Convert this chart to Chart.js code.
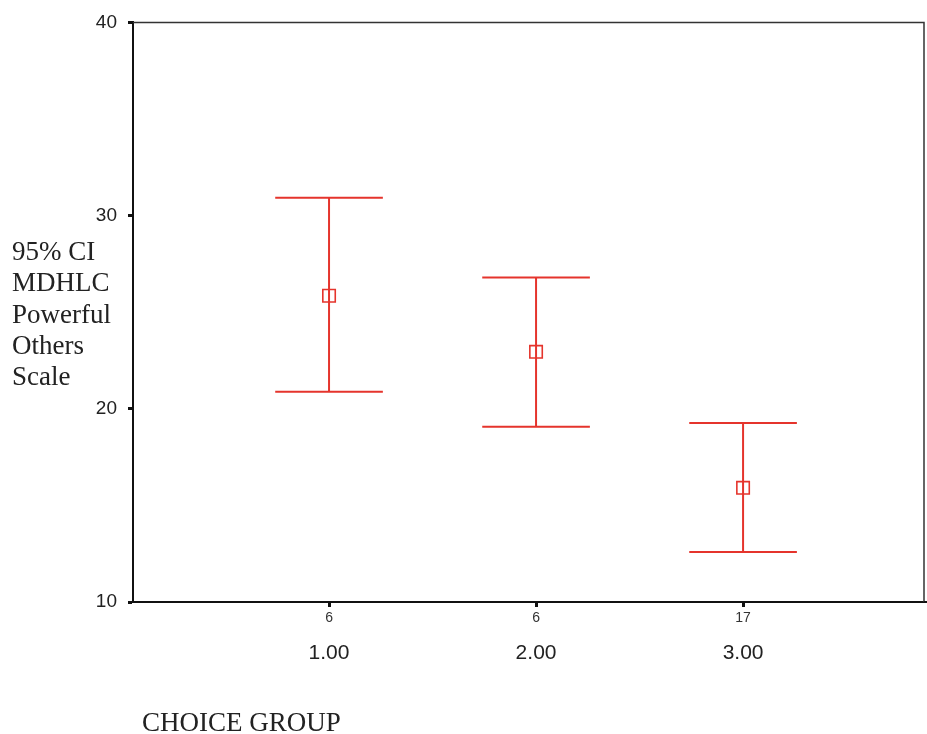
<!DOCTYPE html>
<html><head><meta charset="utf-8">
<script src="https://cdn.jsdelivr.net/npm/chart.js@4/dist/chart.umd.min.js"></script>
<style>html,body{margin:0;padding:0;background:#fff}#wrap{width:927px;height:734px;position:relative}</style>
</head><body><div id="wrap"><canvas id="c" width="927" height="734"></canvas></div>
<script>
// ---- data ----
const groups = [1, 2, 3];
const groupLabels = ['1.00', '2.00', '3.00'];
const counts = ['6', '6', '17'];
const means = [25.85, 22.95, 15.91];
const lower = [20.88, 19.07, 12.59];
const upper = [30.93, 26.79, 19.27];
const yTicks = [10, 20, 30, 40];
const yTitle = ['95% CI', 'MDHLC', 'Powerful', 'Others', 'Scale'];
const xTitle = 'CHOICE GROUP';

// ---- styles ----
const RED = '#e5342c';
const CAP = 0.26;

const whiskers = [];
groups.forEach((g, i) => {
  whiskers.push({x: g, y: upper[i]}, {x: g, y: lower[i]}, {x: g, y: null});
  whiskers.push({x: g - CAP, y: upper[i]}, {x: g + CAP, y: upper[i]}, {x: g, y: null});
  whiskers.push({x: g - CAP, y: lower[i]}, {x: g + CAP, y: lower[i]}, {x: g, y: null});
});
const meanPts = groups.map((g, i) => ({x: g, y: means[i]}));

const decor = {
  id: 'decor',
  beforeDraw(chart) {
    const c = chart.ctx;
    c.save(); c.fillStyle = '#ffffff'; c.fillRect(0, 0, chart.width, chart.height); c.restore();
  },
  afterDraw(chart) {
    const c = chart.ctx, a = chart.chartArea;
    c.save();
    c.strokeStyle = '#333'; c.lineWidth = 1.5;
    c.beginPath();
    c.moveTo(a.left, a.top); c.lineTo(a.right, a.top); c.lineTo(a.right, a.bottom);
    c.stroke();
    c.beginPath(); c.strokeStyle = '#111'; c.lineWidth = 2;
    c.moveTo(a.right, a.bottom); c.lineTo(chart.width, a.bottom); c.stroke();
    c.fillStyle = '#222';
    c.font = '27px "Liberation Serif", "Times New Roman", serif';
    c.textAlign = 'left'; c.textBaseline = 'alphabetic';
    yTitle.forEach((t, i) => c.fillText(t, 12, 260 + i * 31.25));
    c.font = '27px "Liberation Serif", "Times New Roman", serif';
    c.fillText(xTitle, 142, 731);
    c.restore();
  }
};

new Chart(document.getElementById('c'), {
  type: 'scatter',
  data: {
    datasets: [
      {data: whiskers, showLine: true, spanGaps: false, borderColor: RED, borderWidth: 2, pointRadius: 0, pointHoverRadius: 0, xAxisID: 'x', yAxisID: 'y'},
      {data: meanPts, showLine: false, pointStyle: 'rect', pointRadius: 8.8, pointBorderWidth: 1.6, pointBorderColor: RED, pointBackgroundColor: 'rgba(0,0,0,0)', xAxisID: 'x', yAxisID: 'y'}
    ]
  },
  options: {
    responsive: false, animation: false, devicePixelRatio: 1,
    layout: {autoPadding: false, padding: {left: 0, top: 22, right: 3, bottom: 0}},
    plugins: {legend: {display: false}, tooltip: {enabled: false}},
    scales: {
      x: {
        type: 'linear', position: 'bottom', weight: 0, min: 0.053, max: 3.874,
        afterBuildTicks: s => { s.ticks = groups.map(v => ({value: v})); },
        ticks: {callback: (v, i) => counts[i], font: {family: '"Liberation Sans", Arial, sans-serif', size: 14}, color: '#333', padding: 3, maxRotation: 0, autoSkip: false},
        grid: {drawOnChartArea: false, drawTicks: true, tickLength: 5, tickWidth: 3, tickColor: '#111'},
        border: {display: true, color: '#111', width: 2},
        afterFit: s => { s.height = 30; }
      },
      x2: {
        type: 'linear', position: 'bottom', weight: 1, min: 0.053, max: 3.874,
        afterBuildTicks: s => { s.ticks = groups.map(v => ({value: v})); },
        ticks: {callback: (v, i) => groupLabels[i], font: {family: '"Liberation Sans", Arial, sans-serif', size: 21}, color: '#222', padding: 1, maxRotation: 0, autoSkip: false},
        grid: {display: false},
        border: {display: false},
        afterFit: s => { s.height = 102; }
      },
      y: {
        type: 'linear', position: 'left', min: 10, max: 40,
        afterBuildTicks: s => { s.ticks = yTicks.map(v => ({value: v})); },
        ticks: {font: {family: '"Liberation Sans", Arial, sans-serif', size: 19}, color: '#222', padding: 11},
        grid: {drawOnChartArea: false, drawTicks: true, tickLength: 5, tickWidth: 3, tickColor: '#111'},
        border: {display: true, color: '#111', width: 2},
        afterFit: s => { s.width = 133; }
      }
    }
  },
  plugins: [decor]
});
</script>
</body></html>
